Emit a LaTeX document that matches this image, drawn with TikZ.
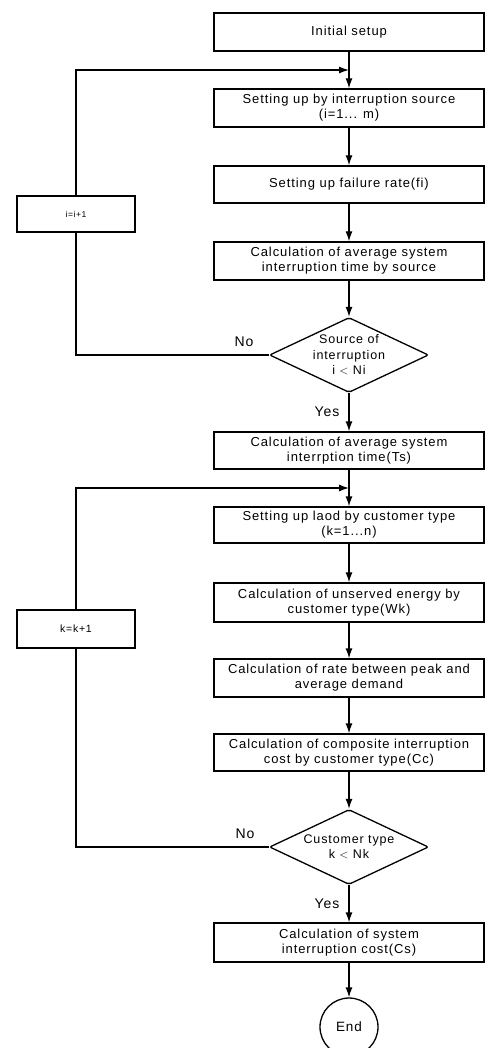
\documentclass[tikz,border=0pt]{standalone}
\usepackage{fontspec}
\setmainfont{Liberation Sans}[LetterSpace=7]
\usetikzlibrary{arrows.meta,shapes.geometric,calc}
\begin{document}
\begin{tikzpicture}[x=1pt,y=-1pt,line width=1.3pt,
  box/.style={draw,rectangle,minimum width=270pt,inner sep=0pt,align=center,
    font=\fontsize{13}{15}\selectfont},
  smallbox/.style={draw,rectangle,minimum width=118pt,inner sep=0pt,align=center},
  dec/.style={draw,diamond,minimum width=159pt,minimum height=75pt,inner sep=0pt,
    rounded corners=2pt},
  dectext/.style={align=center,font=\fontsize{12.5}{15.5}\selectfont},
  term/.style={draw,circle,minimum size=58pt,inner sep=0pt,font=\fontsize{13.5}{15}\selectfont},
  arr/.style={-{Latex[length=10pt,width=7pt]}},
  lbl/.style={font=\fontsize{14}{16}\selectfont,inner sep=0pt}
]
\useasboundingbox (0,0) rectangle (485,1048);

\node[box,minimum height=38pt] (b1) at (349,32) {Initial setup};
\node[box,minimum height=38pt] (b2) at (349,108) {Setting up by interruption source\\(i=1... m)};
\node[box,minimum height=37pt] (b3) at (349,184.5) {Setting up failure rate(fi)};
\node[box,minimum height=38pt] (b4) at (349,261) {Calculation of average system\\interruption time by source};
\node[dec,label={[dectext]center:Source of\\interruption\\i $<$ Ni}] (d1) at (349,355) {};
\node[box,minimum height=37pt] (b5) at (349,450.5) {Calculation of average system\\interrption time(Ts)};
\node[box,minimum height=36pt] (b6) at (349,525) {Setting up laod by customer type\\(k=1...n)};
\node[box,minimum height=39pt] (b7) at (349,602.5) {Calculation of unserved energy by\\customer type(Wk)};
\node[box,minimum height=38pt] (b8) at (349,678) {Calculation of rate between peak and\\average demand};
\node[box,minimum height=37pt] (b9) at (349,752.5) {Calculation of composite interruption\\cost by customer type(Cc)};
\node[dec,label={[dectext]center:Customer type\\k $<$ Nk}] (d2) at (349,847) {};
\node[box,minimum height=39pt] (b10) at (349,942.5) {Calculation of system\\interruption cost(Cs)};
\node[term] (end) at (349,1027) {End};

\node[smallbox,minimum height=36pt,font=\fontsize{8.5}{10}\selectfont] (ii) at (76,214) {i=i+1};
\node[smallbox,minimum height=38pt,font=\fontsize{10.5}{12}\selectfont] (kk) at (76,629) {k=k+1};

\coordinate (m1) at (349,70);
\coordinate (m2) at (349,488);

\draw[arr] (b1) -- (b2);
\draw[arr] (b2) -- (b3);
\draw[arr] (b3) -- (b4);
\draw[arr] (b4) -- (d1);
\draw[arr] (d1) -- (b5);
\draw[arr] (b5) -- (b6);
\draw[arr] (b6) -- (b7);
\draw[arr] (b7) -- (b8);
\draw[arr] (b8) -- (b9);
\draw[arr] (b9) -- (d2);
\draw[arr] (d2) -- (b10);
\draw[arr] (b10) -- (end);

\draw (d1.west) -| (ii.south);
\draw[arr] (ii.north) |- (m1);
\draw (d2.west) -| (kk.south);
\draw[arr] (kk.north) |- (m2);

\node[lbl] (no1) at (244,342) {No};
\node[lbl] (yes1) at (327,412) {Yes};
\node[lbl] (no2) at (245,834) {No};
\node[lbl] (yes2) at (327,904) {Yes};
\end{tikzpicture}
\end{document}
